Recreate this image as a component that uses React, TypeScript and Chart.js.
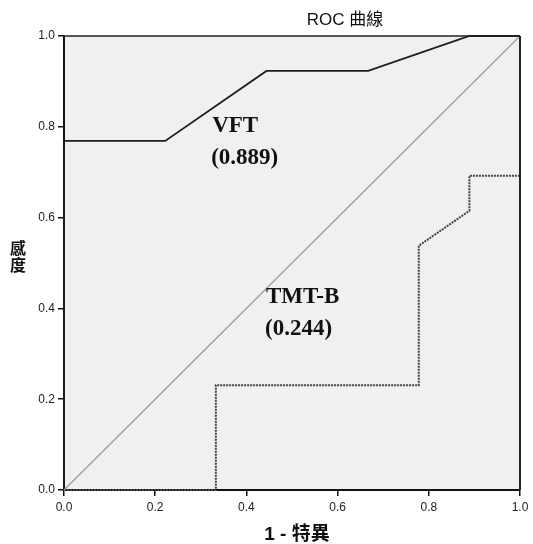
import { useEffect, useRef } from 'react';
import { Chart, registerables } from 'chart.js';

Chart.register(...registerables);

// ROC curve points (1 - specificity, sensitivity)
const fprVFT = [0, 0, 0.222, 0.444, 0.667, 0.889, 1];
const tprVFT = [0, 0.769, 0.769, 0.923, 0.923, 1, 1];
const fprTMT = [0, 0.333, 0.333, 0.778, 0.778, 0.889, 0.889, 1, 1];
const tprTMT = [0, 0, 0.231, 0.231, 0.538, 0.615, 0.692, 0.692, 1];
const refLine = [0, 1];
const axisTicks = [0, 0.2, 0.4, 0.6, 0.8, 1.0];
const curveNames = ['VFT', 'TMT-B'];
const aucValues = ['(0.889)', '(0.244)'];
const chartTitle = 'ROC 曲線';
const xTitle = '1 - 特異';
const yTitle = ['感', '度'];

// label anchors in data units (left edge, baseline of first line)
const labelX = [0.325, 0.443];
const labelY = [0.789, 0.412];

const CJK = "'Liberation Sans', Arial, 'Noto Sans CJK TC', sans-serif";

export default function App() {
  const ref = useRef<HTMLCanvasElement | null>(null);

  useEffect(() => {
    document.body.style.margin = '0';
    const canvas = ref.current;
    if (!canvas) return;

    const decor = {
      id: 'decor',
      beforeDraw(chart: any) {
        const { ctx, chartArea: a } = chart;
        ctx.save();
        ctx.fillStyle = '#f0f0f0';
        ctx.fillRect(a.left, a.top, a.right - a.left, a.bottom - a.top);
        ctx.restore();
      },
      afterDatasetsDraw(chart: any) {
        const { ctx, chartArea: a, scales } = chart;
        ctx.save();
        // top & right frame
        ctx.strokeStyle = '#222';
        ctx.lineWidth = 1.5;
        ctx.beginPath();
        ctx.moveTo(a.left, a.top);
        ctx.lineTo(a.right, a.top);
        ctx.stroke();
        ctx.lineWidth = 2;
        ctx.beginPath();
        ctx.moveTo(a.right, a.top);
        ctx.lineTo(a.right, a.bottom);
        ctx.stroke();

        // AUC labels
        ctx.fillStyle = '#111';
        ctx.textAlign = 'left';
        ctx.textBaseline = 'alphabetic';
        ctx.font = "bold 23px 'Liberation Serif', 'Times New Roman', serif";
        curveNames.forEach((name, i) => {
          const px = scales.x.getPixelForValue(labelX[i]);
          const py = scales.y.getPixelForValue(labelY[i]);
          ctx.fillText(name, px, py);
          ctx.fillText(aucValues[i], px - 1, py + 32);
        });

        // chart title
        ctx.fillStyle = '#111';
        ctx.font = `17px ${CJK}`;
        ctx.textAlign = 'center';
        ctx.textBaseline = 'middle';
        ctx.fillText(chartTitle, 345, 20);

        // x title
        ctx.font = `bold 19px ${CJK}`;
        ctx.fillText(xTitle, 297, 535);

        // y title (stacked)
        ctx.font = `bold 16px ${CJK}`;
        ctx.fillText(yTitle[0], 18, 250);
        ctx.fillText(yTitle[1], 18, 267);
        ctx.restore();
      },
    };

    const tickFont = { family: "'Liberation Sans', Arial, sans-serif", size: 12 };

    const chart = new Chart(canvas, {
      type: 'scatter',
      data: {
        datasets: [
          {
            data: refLine.map((v) => ({ x: v, y: v })),
            showLine: true,
            borderColor: '#9a9a9a',
            borderWidth: 1.2,
            pointRadius: 0,
            clip: false as any,
          },
          {
            data: fprTMT.map((v, i) => ({ x: v, y: tprTMT[i] })),
            showLine: true,
            borderColor: '#444',
            borderWidth: 2,
            borderDash: [2, 1],
            pointRadius: 0,
            clip: false as any,
          },
          {
            data: fprVFT.map((v, i) => ({ x: v, y: tprVFT[i] })),
            showLine: true,
            borderColor: '#1e1e1e',
            borderWidth: 1.8,
            pointRadius: 0,
            clip: false as any,
          },
        ],
      },
      options: {
        responsive: false,
        animation: false,
        events: [],
        layout: { padding: { left: 0, right: 13, top: 36, bottom: 0 } },
        plugins: {
          legend: { display: false },
          tooltip: { enabled: false },
          title: { display: false },
        },
        scales: {
          x: {
            type: 'linear',
            min: 0,
            max: 1,
            afterBuildTicks: (s: any) => {
              s.ticks = axisTicks.map((v) => ({ value: v }));
            },
            afterFit: (s: any) => {
              s.height = 54;
            },
            ticks: {
              font: tickFont,
              color: '#222',
              padding: 4,
              maxRotation: 0,
              callback: (v: any) => Number(v).toFixed(1),
            },
            grid: {
              drawOnChartArea: false,
              drawTicks: true,
              tickLength: 6,
              color: '#111',
              lineWidth: 1.5,
            },
            border: { display: true, color: '#111', width: 2 },
          },
          y: {
            type: 'linear',
            min: 0,
            max: 1,
            afterBuildTicks: (s: any) => {
              s.ticks = axisTicks.map((v) => ({ value: v }));
            },
            afterFit: (s: any) => {
              s.width = 64;
            },
            ticks: {
              font: tickFont,
              color: '#222',
              padding: 3,
              callback: (v: any) => Number(v).toFixed(1),
            },
            grid: {
              drawOnChartArea: false,
              drawTicks: true,
              tickLength: 6,
              color: '#111',
              lineWidth: 1.5,
            },
            border: { display: true, color: '#111', width: 2 },
          },
        },
      },
      plugins: [decor],
    } as any);

    return () => chart.destroy();
  }, []);

  return <canvas ref={ref} width={533} height={544} style={{ display: 'block' }} />;
}
